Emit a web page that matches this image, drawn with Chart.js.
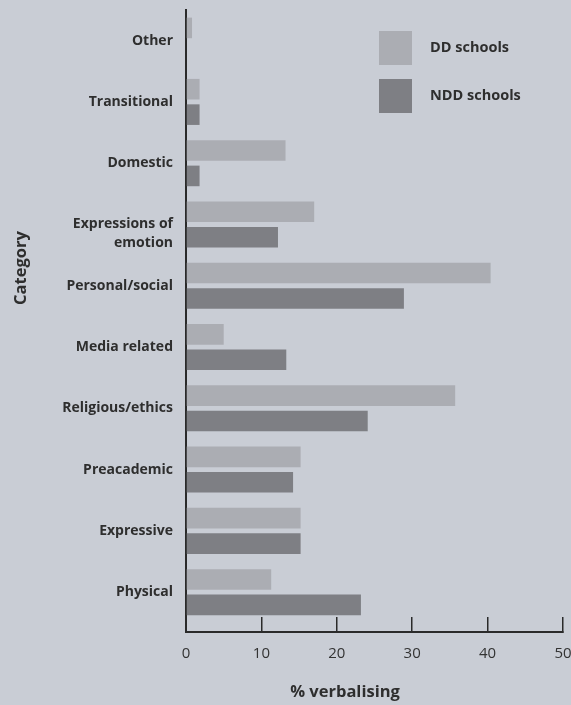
<!DOCTYPE html>
<html>
<head>
<meta charset="utf-8">
<script src="https://cdn.jsdelivr.net/npm/chart.js@4"></script>
<style>
  html, body { margin: 0; padding: 0; background: #c9cdd5; }
  canvas { display: block; }
</style>
</head>
<body>
<canvas id="chart" width="571" height="705"></canvas>
<script>
// categories top to bottom, % verbalising per school type
var categories = ['Other', 'Transitional', 'Domestic', ['Expressions of', 'emotion'], 'Personal/social',
  'Media related', 'Religious/ethics', 'Preacademic', 'Expressive', 'Physical'];
var ddSchools = [0.8, 1.8, 13.2, 17.0, 40.4, 5.0, 35.7, 15.2, 15.2, 11.3];
var nddSchools = [0, 1.8, 1.8, 12.2, 28.9, 13.3, 24.1, 14.2, 15.2, 23.2];
var seriesNames = ['DD schools', 'NDD schools'];
var xTicks = [0, 10, 20, 30, 40, 50];
var xTitle = '% verbalising';
var yTitle = 'Category';

var textColor = '#2e2e2e';
var axisColor = '#2a2a2a';

function toPoints(values) {
  return values.map(function(v, i) { return { x: v, y: i }; });
}

// legend drawn as two stacked boxes inside the plot, like the original
var boxLegend = {
  id: 'boxLegend',
  afterDraw: function(chart) {
    var ctx = chart.ctx;
    var area = chart.chartArea;
    ctx.save();
    ctx.font = 'bold 14.5px "Open Sans"';
    ctx.textBaseline = 'middle';
    chart.data.datasets.forEach(function(ds, i) {
      var top = area.top + 21 + i * 48;
      ctx.fillStyle = ds.backgroundColor;
      ctx.fillRect(area.left + 193, top, 33, 34);
      ctx.fillStyle = textColor;
      ctx.fillText(ds.label, area.left + 244, top + 17);
    });
    ctx.restore();
  }
};

var axisTitles = {
  id: 'axisTitles',
  afterDraw: function(chart) {
    var ctx = chart.ctx;
    ctx.save();
    ctx.font = 'bold 16.5px "Open Sans"';
    ctx.fillStyle = textColor;
    ctx.textAlign = 'center';
    ctx.textBaseline = 'middle';
    ctx.fillText(xTitle, 345, 692);
    ctx.translate(21, 268);
    ctx.rotate(-Math.PI / 2);
    ctx.fillText(yTitle, 0, 0);
    ctx.restore();
  }
};

new Chart(document.getElementById('chart'), {
  type: 'bar',
  data: {
    datasets: [{
      label: seriesNames[0],
      data: toPoints(ddSchools),
      backgroundColor: '#abadb3'
    }, {
      label: seriesNames[1],
      data: toPoints(nddSchools),
      backgroundColor: '#7e7f84'
    }]
  },
  options: {
    indexAxis: 'y',
    responsive: false,
    animation: false,
    categoryPercentage: 0.83,
    barPercentage: 0.81,
    layout: { padding: { top: 10, right: 8, bottom: 0, left: 0 } },
    plugins: {
      legend: { display: false },
      tooltip: { enabled: false }
    },
    scales: {
      x: {
        type: 'linear',
        min: xTicks[0],
        max: xTicks[xTicks.length - 1],
        afterBuildTicks: function(scale) {
          scale.ticks = xTicks.map(function(v) { return { value: v }; });
        },
        afterFit: function(scale) {
          scale.height = 73;
          scale.paddingLeft = 0;
          scale.paddingRight = 0;
        },
        border: { display: true, color: axisColor, width: 2 },
        grid: { drawOnChartArea: false, drawTicks: true, tickLength: -15, color: axisColor, lineWidth: 1.5 },
        ticks: {
          padding: 28,
          color: '#333333',
          font: { family: 'Open Sans', size: 15 }
        }
      },
      y: {
        type: 'linear',
        reverse: true,
        offset: false,
        min: -0.5,
        max: 9.65,
        afterFit: function(scale) {
          scale.width = 186;
          scale.paddingTop = 0;
          scale.paddingBottom = 0;
        },
        border: { display: true, color: axisColor, width: 2 },
        grid: { offset: false, drawOnChartArea: false, drawTicks: false },
        ticks: {
          stepSize: 1,
          includeBounds: false,
          autoSkip: false,
          padding: 13,
          color: textColor,
          font: { family: 'Open Sans', size: 14, weight: 'bold', lineHeight: 1.3 },
          callback: function(value) {
            if (!Number.isInteger(value)) return '';
            var label = categories[value];
            // two-line labels sit with their first line on the bar pair
            return Array.isArray(label) ? [''].concat(label) : label;
          }
        }
      }
    }
  },
  plugins: [boxLegend, axisTitles]
});
</script>
</body>
</html>
